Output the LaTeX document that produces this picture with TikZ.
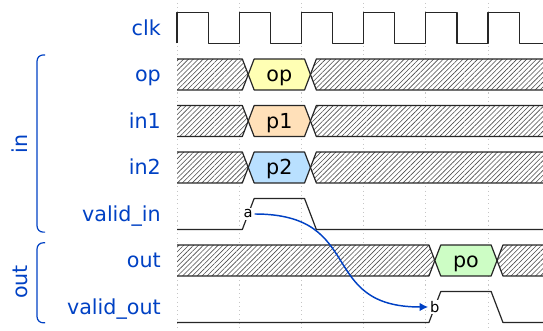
\documentclass[tikz,border=0pt]{standalone}
\usepackage{fontspec}
\setmainfont{DejaVu Sans}
\usepackage{tikz}
\usetikzlibrary{patterns.meta, arrows.meta}

\definecolor{wavblue}{HTML}{0041C4}
\definecolor{datayellow}{HTML}{FFFFB4}
\definecolor{dataorange}{HTML}{FFE0B9}
\definecolor{datablue}{HTML}{B9E0FF}
\definecolor{datagreen}{HTML}{CDFDC5}

\begin{document}
\begin{tikzpicture}[x=46.65pt, y=34.875pt, >={Latex[length=6.5pt,width=6.5pt]},
    sig/.style={line width=0.9pt, draw=black!85, line join=round},
    hatched/.style={sig, preaction={fill=white}, pattern={Lines[angle=45,distance=2.6pt,line width=0.45pt]}, pattern color=black!70},
    lbl/.style={wavblue, anchor=base east, inner sep=0pt, font=\fontsize{15.5}{18}\selectfont},
    datatext/.style={black, anchor=base, inner sep=0pt, font=\fontsize{15.5}{18}\selectfont},
    grp/.style={wavblue, rotate=90, inner sep=0pt, font=\fontsize{15.5}{18}\selectfont},
    bracket/.style={wavblue, line width=0.9pt, rounded corners=4.5pt},
    edgemark/.style={fill=white, inner sep=1.3pt, font=\fontsize{11}{12}\selectfont},
    gridline/.style={gray!45, line width=0.6pt, dash pattern=on 0.8pt off 2.4pt}]
    \useasboundingbox (-2.846,0.602) rectangle (5.884,-6.516);

    % Grid lines at the rising edges
    \draw[gridline] (0,0.54) -- (0,-6.52) (1,0.54) -- (1,-6.52) (2,0.54) -- (2,-6.52)
        (3,0.54) -- (3,-6.52) (4,0.54) -- (4,-6.52) (5,0.54) -- (5,-6.52);

    % Row labels
    \node[lbl] (lclk) at (-0.257,-0.16) {clk};
    \node[lbl] (lop) at (-0.257,-1.16) {op};
    \node[lbl] (lin1) at (-0.257,-2.16) {in1};
    \node[lbl] (lin2) at (-0.257,-3.16) {in2};
    \node[lbl] (lvin) at (-0.257,-4.16) {valid\_in};
    \node[lbl] (lout) at (-0.257,-5.16) {out};
    \node[lbl] (lvout) at (-0.257,-6.16) {valid\_out};

    % Groups
    \draw[bracket] (-2.12,-0.58) -- (-2.25,-0.58) -- (-2.25,-4.39) -- (-2.12,-4.39);
    \node[grp] (gin) at (-2.524,-2.495) {in};
    \draw[bracket] (-2.12,-4.62) -- (-2.25,-4.62) -- (-2.25,-6.34) -- (-2.12,-6.34);
    \node[grp] (gout) at (-2.524,-5.462) {out};

    % Clock
    \draw[sig] (0,-0.333) -- (0,0.333) -- (0.5,0.333) -- (0.5,-0.333) -- (1,-0.333)
        -- (1,0.333) -- (1.5,0.333) -- (1.5,-0.333) -- (2,-0.333)
        -- (2,0.333) -- (2.5,0.333) -- (2.5,-0.333) -- (3,-0.333)
        -- (3,0.333) -- (3.5,0.333) -- (3.5,-0.333) -- (4,-0.333)
        -- (4,0.333) -- (4.5,0.333) -- (4.5,-0.333) -- (5,-0.333)
        -- (5,0.333) -- (5.5,0.333) -- (5.5,-0.333) -- (5.9,-0.333);

    % op
    \draw[hatched] (0,-0.667) -- (1.05,-0.667) -- (1.145,-1) -- (1.05,-1.333) -- (0,-1.333);
    \draw[sig, fill=datayellow] (1.145,-1) -- (1.24,-0.667) -- (2.05,-0.667) -- (2.145,-1) -- (2.05,-1.333) -- (1.24,-1.333) -- cycle;
    \node[datatext] (dop) at (1.645,-1.16) {op};
    \draw[hatched] (5.9,-0.667) -- (2.24,-0.667) -- (2.145,-1) -- (2.24,-1.333) -- (5.9,-1.333);

    % in1
    \draw[hatched] (0,-1.667) -- (1.05,-1.667) -- (1.145,-2) -- (1.05,-2.333) -- (0,-2.333);
    \draw[sig, fill=dataorange] (1.145,-2) -- (1.24,-1.667) -- (2.05,-1.667) -- (2.145,-2) -- (2.05,-2.333) -- (1.24,-2.333) -- cycle;
    \node[datatext] (dp1) at (1.645,-2.16) {p1};
    \draw[hatched] (5.9,-1.667) -- (2.24,-1.667) -- (2.145,-2) -- (2.24,-2.333) -- (5.9,-2.333);

    % in2
    \draw[hatched] (0,-2.667) -- (1.05,-2.667) -- (1.145,-3) -- (1.05,-3.333) -- (0,-3.333);
    \draw[sig, fill=datablue] (1.145,-3) -- (1.24,-2.667) -- (2.05,-2.667) -- (2.145,-3) -- (2.05,-3.333) -- (1.24,-3.333) -- cycle;
    \node[datatext] (dp2) at (1.645,-3.16) {p2};
    \draw[hatched] (5.9,-2.667) -- (2.24,-2.667) -- (2.145,-3) -- (2.24,-3.333) -- (5.9,-3.333);

    % valid_in
    \draw[sig] (0,-4.333) -- (1.05,-4.333) -- (1.24,-3.667) -- (2.05,-3.667) -- (2.24,-4.333) -- (5.9,-4.333);
    \node[edgemark] (a) at (1.145,-4) {a};

    % out
    \draw[hatched] (0,-4.667) -- (4.05,-4.667) -- (4.145,-5) -- (4.05,-5.333) -- (0,-5.333);
    \draw[sig, fill=datagreen] (4.145,-5) -- (4.24,-4.667) -- (5.05,-4.667) -- (5.145,-5) -- (5.05,-5.333) -- (4.24,-5.333) -- cycle;
    \node[datatext] (dpo) at (4.645,-5.16) {po};
    \draw[hatched] (5.9,-4.667) -- (5.24,-4.667) -- (5.145,-5) -- (5.24,-5.333) -- (5.9,-5.333);

    % valid_out
    \draw[sig] (0,-6.333) -- (4.05,-6.333) -- (4.24,-5.667) -- (5.05,-5.667) -- (5.24,-6.333) -- (5.9,-6.333);
    \node[edgemark] (b) at (4.145,-6) {b};

    % a -> b
    \draw[->, wavblue, line width=1.1pt] (a) .. controls +(1.9,0) and +(-1.9,0) .. (b);
\end{tikzpicture}
\end{document}
